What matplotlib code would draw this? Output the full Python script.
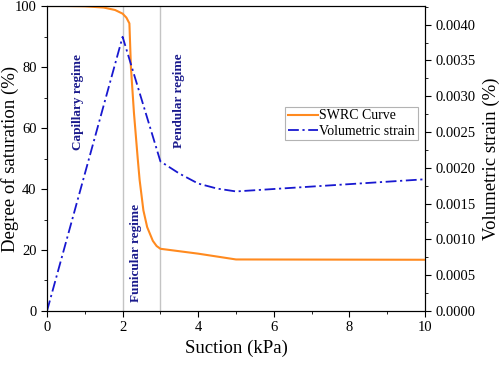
import matplotlib
matplotlib.use("Agg")
import matplotlib.pyplot as plt
from matplotlib.ticker import MultipleLocator, FormatStrFormatter

plt.rcParams['font.family'] = ['Liberation Serif', 'DejaVu Serif']

# SWRC curve (suction kPa, degree of saturation %)
swrc_x = [0, 0.5, 1.0, 1.5, 1.8, 2.0, 2.1, 2.18, 2.22, 2.3, 2.4, 2.45, 2.55, 2.65, 2.8, 2.9, 3.0, 4.0, 5.0, 10.0]
swrc_y = [100, 100, 99.9, 99.5, 98.7, 97.5, 96.2, 94.3, 80, 65, 50, 43, 33, 27.5, 23, 21.3, 20.4, 18.8, 16.9, 16.8]

# volumetric strain (%)
vs_x = [0, 2.0, 3.0, 3.5, 4.0, 4.5, 5.0, 10.0]
vs_y = [0.0, 0.00383, 0.00209, 0.00192, 0.00178, 0.00171, 0.00167, 0.00184]

# regime labels
regimes = ["Capillary regime", "Funicular regime", "Pendular regime"]
regime_x = [0.82, 2.35, 3.5]
regime_y = [68.5, 19, 69]

fig = plt.figure(figsize=(5, 3.67), dpi=100)
ax = fig.add_axes([0.094, 0.1526, 0.756, 0.831])
ax2 = ax.twinx()

for xv in [2, 3]:
    ax.axvline(xv, color='#c4c4c4', lw=1, zorder=1)

l1, = ax.plot(swrc_x, swrc_y, color='#ff8a1f', lw=1.5, label='SWRC Curve', zorder=3)
l2, = ax2.plot(vs_x, vs_y, color='#1818d0', lw=1.3, ls=(0, (6, 2, 1.2, 2)), label='Volumetric strain')

for t, xx, yy in zip(regimes, regime_x, regime_y):
    ax.text(xx, yy, t, rotation=90, ha='center', va='center', color='#1a1a8c',
            fontsize=9.5, fontweight='bold')

ax.set_xlim(0, 10)
ax.set_ylim(0, 100)
ax2.set_ylim(0, 0.00426)

ax.xaxis.set_major_locator(MultipleLocator(2))
ax.xaxis.set_minor_locator(MultipleLocator(1))
ax.yaxis.set_major_locator(MultipleLocator(20))
ax.yaxis.set_minor_locator(MultipleLocator(10))
ax2.yaxis.set_major_locator(MultipleLocator(0.0005))
ax2.yaxis.set_minor_locator(MultipleLocator(0.00025))
ax2.yaxis.set_major_formatter(FormatStrFormatter('%.4f'))

ax.tick_params(which='both', direction='out', labelsize=10.5, top=False)
ax.tick_params(which='major', length=4)
ax.tick_params(which='minor', length=2.5)
ax2.tick_params(which='both', direction='out', labelsize=10.5)
ax2.tick_params(which='major', length=4)
ax2.tick_params(which='minor', length=2.5)

ax.set_xlabel('Suction (kPa)', fontsize=13.5)
ax.set_ylabel('Degree of saturation (%)', fontsize=13.5)
ax.yaxis.set_label_coords(-0.075, 0.5)
ax2.set_ylabel('Volumetric strain (%)', fontsize=13.5)
ax2.yaxis.set_label_coords(1.153, 0.5)

leg = ax.legend([l1, l2], ['SWRC Curve', 'Volumetric strain'], loc='upper left',
                bbox_to_anchor=(0.63, 0.67), fontsize=10, frameon=True, fancybox=False,
                edgecolor='#a0a0a0', handlelength=2.2, handletextpad=0.05,
                borderpad=0.2, labelspacing=0.15, borderaxespad=0)
leg.get_frame().set_linewidth(0.8)

fig.savefig('out.png', dpi=100)
